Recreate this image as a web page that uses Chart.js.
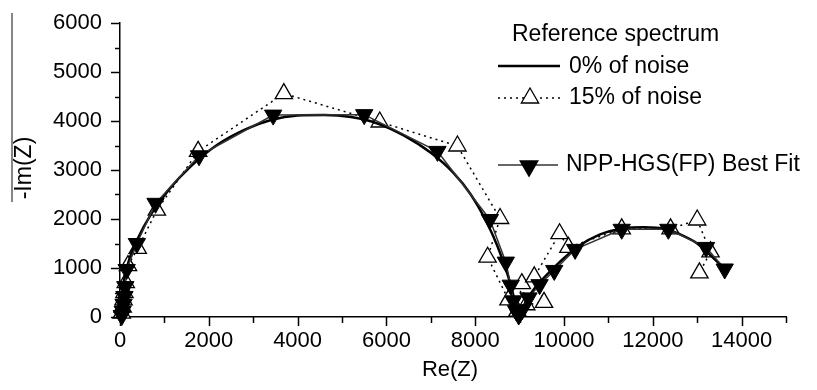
<!DOCTYPE html>
<html>
<head>
<meta charset="utf-8">
<script src="https://cdn.jsdelivr.net/npm/chart.js@4/dist/chart.umd.min.js"></script>
<style>
html,body{margin:0;padding:0;background:#fff;}
#wrap{width:817px;height:390px;}
</style>
</head>
<body>
<div id="wrap"><canvas id="c" width="817" height="390"></canvas></div>
<script>
// ---- data ----
const refX = [0, 30, 100, 200, 400, 700, 1100, 1600, 2200, 2800, 3400, 4000, 4600, 5200, 5800, 6400, 7000, 7500, 7900, 8250, 8500, 8700, 8830, 8920, 8960, 9000, 9150, 9350, 9600, 9900, 10300, 10800, 11300, 11800, 12300, 12700, 13000, 13300, 13600];
const refY = [0, 350, 800, 1150, 1600, 2100, 2600, 3080, 3520, 3820, 4020, 4110, 4120, 4080, 3950, 3700, 3350, 2950, 2500, 1950, 1450, 950, 550, 200, 0, 60, 330, 600, 850, 1120, 1430, 1680, 1800, 1830, 1790, 1650, 1500, 1260, 1000];

const noiseX = [40, 60, 80, 100, 130, 180, 400, 830, 1760, 3690, 5850, 7600, 8560, 8280, 8750, 8950, 9050, 9150, 9550, 9330, 9900, 10100, 11300, 12400, 13000, 13300, 13050];
const noiseY = [80, 200, 350, 500, 700, 1050, 1400, 2180, 3380, 4560, 3980, 3490, 2010, 1220, 350, 120, 680, 250, 300, 820, 1700, 1420, 1800, 1800, 1980, 1330, 900];

const fitX = [40, 60, 80, 100, 120, 150, 380, 800, 1780, 3450, 5500, 7150, 8330, 8690, 8800, 8860, 8920, 8980, 9060, 9200, 9450, 9780, 10250, 11300, 12350, 13200, 13620];
const fitY = [30, 120, 260, 420, 620, 970, 1500, 2320, 3290, 4120, 4130, 3380, 1990, 1120, 650, 330, 130, 40, 150, 390, 660, 950, 1380, 1790, 1790, 1420, 980];

const xTickValues = [0, 2000, 4000, 6000, 8000, 10000, 12000, 14000];
const yTickValues = [0, 1000, 2000, 3000, 4000, 5000, 6000];
const legendLabels = ['Reference spectrum', '0% of noise', '15% of noise', 'NPP-HGS(FP) Best Fit'];
const xTitle = 'Re(Z)';
const yTitle = '-Im(Z)';

const pts = (xs, ys) => xs.map((x, i) => ({x: x, y: ys[i]}));
const FONT = '"Liberation Sans", Arial, Helvetica, sans-serif';

function tri(ctx, x, y, r, down, fill) {
  ctx.beginPath();
  const s = down ? -1 : 1;
  for (let k = 0; k < 3; k++) {
    const a = k * 2 * Math.PI / 3;
    const px = x + Math.sin(a) * r;
    const py = y - s * Math.cos(a) * r;
    if (k === 0) ctx.moveTo(px, py); else ctx.lineTo(px, py);
  }
  ctx.closePath();
  ctx.fillStyle = fill;
  ctx.fill();
  ctx.stroke();
}

const decor = {
  id: 'decor',
  afterDraw(chart) {
    const ctx = chart.ctx;
    const xs = chart.scales.x, ys = chart.scales.y;
    const a = chart.chartArea;
    ctx.save();
    ctx.strokeStyle = '#000';
    ctx.lineWidth = 1.5;
    for (let v = 0; v <= 15000; v += 1000) {
      const p = Math.round(xs.getPixelForValue(v)) + 0.5;
      const len = (v % 2000 === 0) ? 9 : 6;
      ctx.beginPath(); ctx.moveTo(p, a.bottom); ctx.lineTo(p, a.bottom + len); ctx.stroke();
    }
    for (let v = 0; v <= 6000; v += 500) {
      const p = Math.round(ys.getPixelForValue(v)) + 0.5;
      const len = (v % 1000 === 0) ? 9 : 5;
      ctx.beginPath(); ctx.moveTo(a.left - len, p); ctx.lineTo(a.left, p); ctx.stroke();
    }
    ctx.fillStyle = '#000';
    ctx.font = '22px ' + FONT;
    ctx.textAlign = 'center';
    ctx.textBaseline = 'middle';
    ctx.fillText(xTitle, (a.left + a.right) / 2 - 3, 370);
    ctx.save();
    ctx.translate(25, 168);
    ctx.rotate(-Math.PI / 2);
    ctx.font = '23px ' + FONT;
    ctx.fillText(yTitle, 0, 0);
    ctx.restore();
    ctx.strokeStyle = '#444';
    ctx.lineWidth = 1.3;
    ctx.beginPath(); ctx.moveTo(12, 13); ctx.lineTo(12, 202); ctx.stroke();

    ctx.font = '23px ' + FONT;
    ctx.textAlign = 'left';
    ctx.fillStyle = '#000';
    ctx.fillText(legendLabels[0], 512, 35);
    ctx.strokeStyle = '#000';
    ctx.lineWidth = 2.5;
    ctx.beginPath(); ctx.moveTo(498, 66); ctx.lineTo(560, 66); ctx.stroke();
    ctx.fillText(legendLabels[1], 569, 67);
    ctx.lineWidth = 1.5;
    ctx.setLineDash([2, 4]);
    ctx.beginPath(); ctx.moveTo(498, 98); ctx.lineTo(563, 98); ctx.stroke();
    ctx.setLineDash([]);
    ctx.lineWidth = 1.3;
    tri(ctx, 530, 98, 10, false, '#fff');
    ctx.fillStyle = '#000';
    ctx.fillText(legendLabels[2], 569, 98);
    ctx.strokeStyle = '#333';
    ctx.lineWidth = 1.5;
    ctx.beginPath(); ctx.moveTo(498, 165); ctx.lineTo(558, 165); ctx.stroke();
    ctx.strokeStyle = '#000';
    tri(ctx, 529, 166, 10, true, '#000');
    ctx.fillStyle = '#000';
    ctx.fillText(legendLabels[3], 566, 165);
    ctx.restore();
  }
};

new Chart(document.getElementById('c'), {
  type: 'scatter',
  data: {
    datasets: [
      {
        label: legendLabels[3],
        data: pts(fitX, fitY),
        showLine: true,
        borderColor: '#333',
        borderWidth: 1.5,
        pointStyle: 'triangle',
        rotation: 180,
        pointRadius: 10,
        pointBackgroundColor: '#000',
        pointBorderColor: '#000',
        pointBorderWidth: 1,
        clip: false,
        order: 0
      },
      {
        label: legendLabels[1],
        data: pts(refX, refY),
        showLine: true,
        borderColor: '#000',
        borderWidth: 2.5,
        cubicInterpolationMode: 'monotone',
        pointRadius: 0,
        clip: false,
        order: 1
      },
      {
        label: legendLabels[2],
        data: pts(noiseX, noiseY),
        showLine: true,
        borderColor: '#000',
        borderWidth: 1.5,
        borderDash: [2, 4],
        pointStyle: 'triangle',
        pointRadius: 10,
        pointBackgroundColor: '#fff',
        pointBorderColor: '#000',
        pointBorderWidth: 1.3,
        clip: false,
        order: 2
      }
    ]
  },
  options: {
    responsive: false,
    devicePixelRatio: 1,
    animation: false,
    layout: { padding: { left: 0, top: 23, right: 31, bottom: 0 } },
    plugins: { legend: { display: false }, tooltip: { enabled: false } },
    scales: {
      x: {
        type: 'linear',
        min: 0, max: 15000,
        afterBuildTicks(scale) { scale.ticks = xTickValues.map(v => ({value: v})); },
        afterFit(scale) { scale.height = 73; scale.paddingLeft = 0; scale.paddingRight = 0; },
        grid: { display: false, drawTicks: false },
        border: { display: true, color: '#000', width: 1.5 },
        ticks: {
          color: '#000',
          font: { family: FONT, size: 22 },
          padding: 11,
          maxRotation: 0,
          autoSkip: false,
          callback: (v) => String(v)
        }
      },
      y: {
        type: 'linear',
        min: 0, max: 6000,
        afterBuildTicks(scale) { scale.ticks = yTickValues.map(v => ({value: v})); },
        afterFit(scale) { scale.width = 120; scale.paddingTop = 0; scale.paddingBottom = 0; },
        grid: { display: false, drawTicks: false },
        border: { display: true, color: '#000', width: 1.5 },
        ticks: {
          color: '#000',
          font: { family: FONT, size: 22 },
          padding: 18,
          autoSkip: false,
          callback: (v) => String(v)
        }
      }
    }
  },
  plugins: [decor]
});
</script>
</body>
</html>
